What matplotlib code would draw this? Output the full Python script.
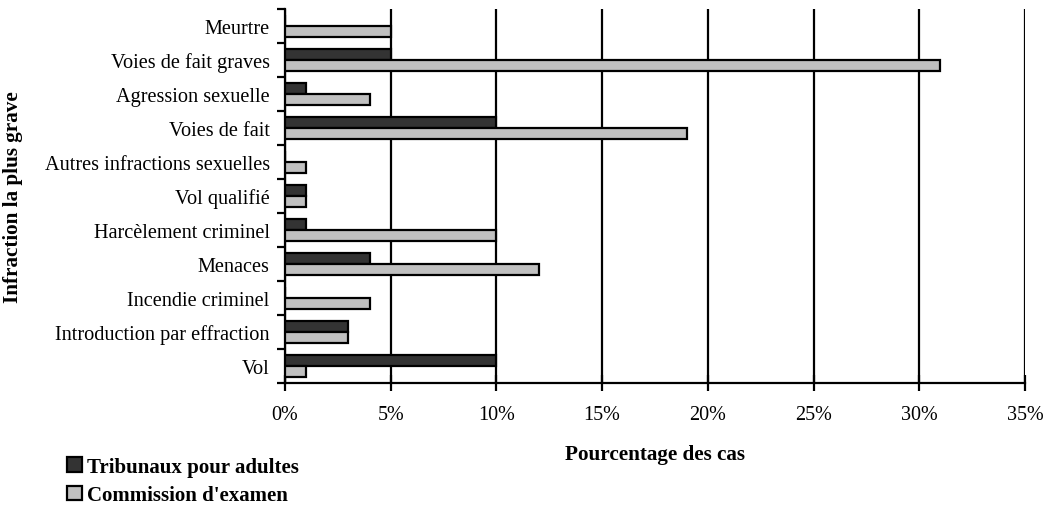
import matplotlib
matplotlib.use("Agg")
import matplotlib.pyplot as plt
import numpy as np
from matplotlib.patches import Patch

categories = ["Meurtre", "Voies de fait graves", "Agression sexuelle", "Voies de fait",
              "Autres infractions sexuelles", "Vol qualifié", "Harcèlement criminel",
              "Menaces", "Incendie criminel", "Introduction par effraction", "Vol"]
tribunaux = [0, 5, 1, 10, 0, 1, 1, 4, 0, 3, 10]
commission = [5, 31, 4, 19, 1, 1, 10, 12, 4, 3, 1]
series_names = ["Tribunaux pour adultes", "Commission d'examen"]
xticks = [0, 5, 10, 15, 20, 25, 30, 35]

plt.rcParams['font.family'] = ['Liberation Serif', 'DejaVu Serif']

fig = plt.figure(figsize=(10.46, 5.10), dpi=100)
ax = fig.add_axes([285/1046, 1-384/510, (1025-285)/1046, (384-10)/510])

n = len(categories)
y = np.arange(n)[::-1].astype(float)
h = 0.33
dark = "#333333"
light = "#c0c0c0"
ax.barh(y + h/2, tribunaux, height=h, color=dark, edgecolor="black", linewidth=1.6, zorder=3)
ax.barh(y - h/2, commission, height=h, color=light, edgecolor="black", linewidth=1.6, zorder=3)

ax.set_xlim(0, 35)
ax.set_ylim(-0.5, n - 0.5)
ax.set_xticks(xticks)
ax.set_xticklabels([f"{v}%" for v in xticks], fontsize=14.5)
ax.xaxis.grid(True, color="black", linewidth=1.6, zorder=0)
ax.set_axisbelow(True)

ax.set_yticks(y)
ax.set_yticklabels(categories, fontsize=14.6)
ax.tick_params(axis='y', length=0, pad=11)
ax.set_yticks(np.arange(-0.5, n, 1.0), minor=True)
ax.tick_params(axis='y', which='minor', length=6, width=1.6, direction='out')
ax.tick_params(axis='x', length=12, width=1.6, direction='inout', pad=10)

for s in ['top', 'right']:
    ax.spines[s].set_visible(False)
for s in ['left', 'bottom']:
    ax.spines[s].set_linewidth(1.6)

ax.set_xlabel("Pourcentage des cas", fontsize=15.2, fontweight='bold', labelpad=14)
fig.text(13/1046, 1-197/510, "Infraction la plus grave", rotation=90, fontsize=15.2,
         fontweight='bold', ha='center', va='center')

handles = [Patch(facecolor=dark, edgecolor='black', linewidth=1.6),
           Patch(facecolor=light, edgecolor='black', linewidth=1.6)]
fig.legend(handles, series_names, loc='upper left', bbox_to_anchor=(67/1046, 1-458/510),
           frameon=False, prop={'size': 15, 'weight': 'bold'}, handlelength=0.72,
           handleheight=0.72, handletextpad=0.25, labelspacing=0.4, borderpad=0, borderaxespad=0)

fig.savefig("out.png", dpi=100)
